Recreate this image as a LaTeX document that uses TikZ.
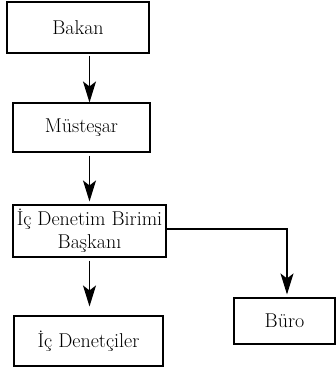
\documentclass[tikz,border=0pt]{standalone}
\usetikzlibrary{arrows.meta,calc}
\begin{document}
\begin{tikzpicture}[x=1pt,y=-1pt,
  box/.style={draw,line width=1.1pt,inner sep=0pt,align=center,font=\fontsize{20}{23}\selectfont},
  arr/.style={line width=1.1pt,-{Stealth[length=21pt,width=13pt,inset=5pt]}}]
\useasboundingbox (0,0) rectangle (336,368);
\node[box,minimum width=142pt,minimum height=51pt] (bakan) at (78,27.5) {Bakan};
\node[box,minimum width=137pt,minimum height=49pt] (mus) at (81.5,127.5) {Müsteşar};
\node[box,minimum width=153pt,minimum height=52pt] (ic) at (89.5,231) {İç Denetim Birimi\\Başkanı};
\node[box,minimum width=149pt,minimum height=50pt] (den) at (88.5,341) {İç Denetçiler};
\node[box,minimum width=101pt,minimum height=46pt] (buro) at (284.5,321) {Büro};
\coordinate (bend) at (287,229);
\draw[arr,shorten <=2pt] (bakan.south -| ic.center) -- (mus.north -| ic.center);
\draw[arr,shorten <=3pt,shorten >=3pt] (mus.south -| ic.center) -- (ic.north);
\draw[arr,shorten <=3pt,shorten >=9pt] (ic.south) -- (den.north -| ic.center);
\draw[arr,shorten >=3pt] (ic.east |- bend) -- (bend) -- (buro.north -| bend);
\end{tikzpicture}
\end{document}
